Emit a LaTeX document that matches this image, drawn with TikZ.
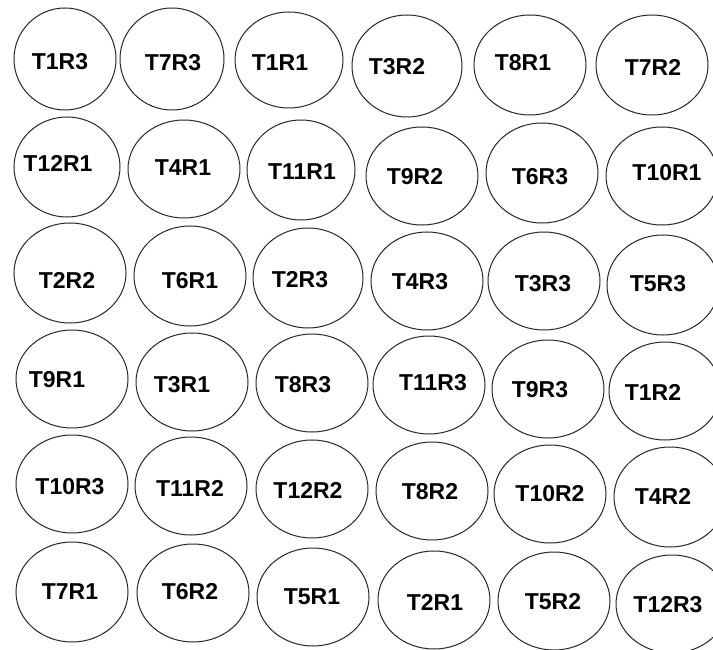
\documentclass[tikz,border=0pt]{standalone}
\usepackage{fontspec}
\setmainfont{Liberation Sans}
\usepackage{tikz}

\begin{document}
\begin{tikzpicture}[x=1pt, y=-1pt,
    ring/.style={draw=black!85, line width=1pt},
    tag/.style={inner sep=0pt, font=\fontsize{23}{23}\selectfont\bfseries}]
  \useasboundingbox (0,0) rectangle (713,650);
  % ellipses: centre / radii / text position / label
  \foreach \cx/\cy/\rx/\ry/\tx/\ty/\lab in {
      65/59/51/51/60/62/T1R3,     172/59/52/51/173/63/T7R3,
      289/60/54/48/280/63/T1R1,   407/66/55/51/397/67/T3R2,
      530/65/56/50/523/63/T8R1,   652/65/56/50/653/67/T7R2,
      67/167/53/50/58/163/T12R1,  184/169/56/49/183/168/T4R1,
      301/170/54/50/302/172/T11R1, 422/176/56/49/415/177/T9R2,
      542/173/56/50/540/177/T6R3, 662/176/56/49/667/173/T10R1,
      70/273/56/50/67/280/T2R2,   190/276/56/50/190/281/T6R1,
      308/278/55/50/300/280/T2R3, 427/281/56/49/420/282/T4R3,
      544/281/56/49/543/284/T3R3, 663/285/56/50/658/284/T5R3,
      72/379/56/49/57/380/T9R1,   192/382/56/49/182/385/T3R1,
      312/383/56/49/303/385/T8R3, 429/385/56/49/433/383/T11R3,
      548/389/56/49/540/390/T9R3, 665/391/56/49/653/392/T1R2,
      72/484/56/49/70/487/T10R3,  191/486/56/49/190/488/T11R2,
      312/489/56/49/308/490/T12R2, 432/491/56/49/430/492/T8R2,
      550/494/56/49/550/494/T10R2, 670/497/56/50/663/496/T4R2,
      72/592/56/50/70/592/T7R1,   193/593/56/49/190/592/T6R2,
      313/597/56/49/312/597/T5R1, 434/600/56/49/435/602/T2R1,
      554/601/56/49/553/602/T5R2, 672/604/56/49/668/605/T12R3}
  {
    \draw[ring] (\cx,\cy) ellipse [x radius=\rx, y radius=\ry];
    \node[tag] (\lab) at (\tx,\ty) {\lab};
  }
\end{tikzpicture}
\end{document}
